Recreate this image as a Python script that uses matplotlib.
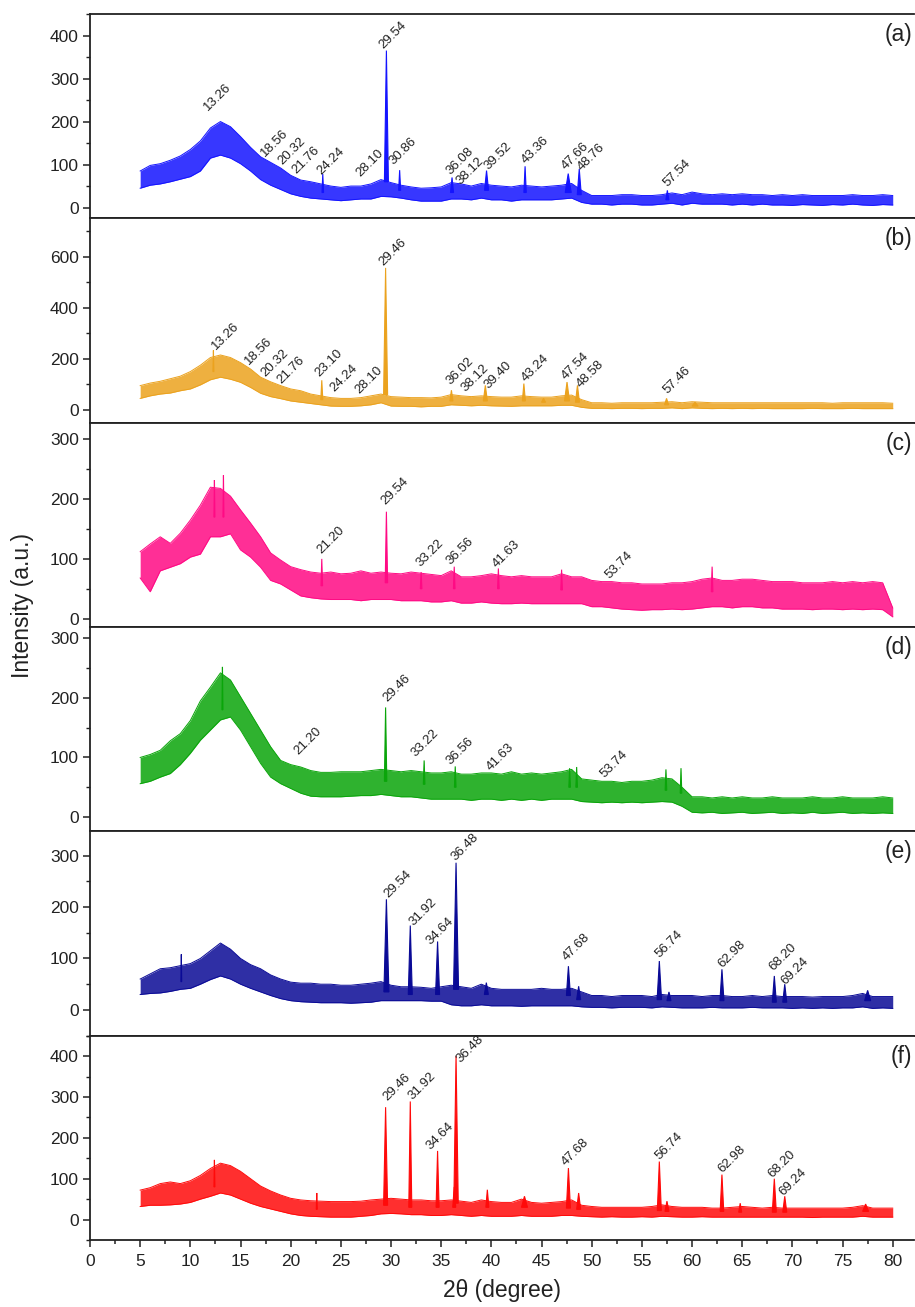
"""Stacked XRD patterns (a)-(f), redrawn from the published figure."""

import matplotlib
matplotlib.use("Agg")
import matplotlib.pyplot as plt
from matplotlib.ticker import MultipleLocator

plt.rcParams["font.family"] = ["Liberation Sans", "DejaVu Sans"]

# 2-theta grid (degrees) on which the noise band was read
TWO_THETA = list(range(5, 81))

# upper / lower edge of the noisy trace, one value per degree (5..80)
A_HI = [85, 98, 102, 110, 120,
        135, 155, 185, 200, 188, 165, 140, 118, 105, 92,
        75, 64, 60, 55, 50, 47, 50, 50, 55, 65,
        58, 52, 48, 45, 46, 48, 58, 55, 50, 56,
        52, 50, 48, 52, 50, 48, 50, 52, 56, 40,
        28, 28, 28, 30, 30, 28, 28, 30, 34, 30,
        36, 32, 30, 32, 30, 32, 30, 30, 28, 30,
        28, 30, 28, 28, 28, 28, 30, 28, 28, 30,
        28]
A_LO = [45, 52, 55, 60, 66,
        72, 85, 115, 122, 115, 102, 85, 65, 52, 42,
        32, 26, 22, 20, 18, 16, 18, 20, 20, 26,
        25, 22, 18, 15, 15, 15, 20, 20, 18, 22,
        18, 18, 15, 18, 18, 18, 18, 20, 22, 12,
        8, 8, 6, 8, 8, 6, 6, 8, 10, 6,
        10, 8, 8, 8, 6, 8, 6, 8, 6, 6,
        5, 7, 6, 5, 7, 6, 8, 6, 5, 7,
        6]
# (position, top, base, half width)
A_PEAKS = [(23.2, 78, 35, 0.08), (29.54, 365, 60, 0.2), (30.86, 87, 40, 0.1),
           (36.08, 70, 35, 0.15), (39.52, 86, 40, 0.2), (43.36, 96, 35, 0.12),
           (47.66, 79, 35, 0.3), (48.76, 90, 30, 0.2), (57.54, 40, 18, 0.15)]
A_LABELS = [("13.26", 11.8, 225), ("18.56", 17.4, 118), ("20.32", 19.2, 98),
            ("21.76", 20.6, 79), ("24.24", 23.1, 75), ("28.10", 26.9, 71),
            ("29.54", 29.2, 369), ("30.86", 30.2, 98), ("36.08", 35.9, 75),
            ("38.12", 36.9, 52), ("39.52", 39.7, 87), ("43.36", 43.4, 102),
            ("47.66", 47.4, 87), ("48.76", 49.0, 84), ("57.54", 57.5, 48)]

B_HI = [95, 105, 112, 122, 132,
        150, 175, 205, 215, 205, 185, 160, 128, 110, 95,
        82, 75, 62, 55, 48, 45, 45, 48, 55, 62,
        52, 50, 48, 48, 47, 50, 60, 55, 52, 55,
        52, 50, 50, 55, 52, 50, 50, 55, 58, 40,
        28, 28, 26, 28, 28, 28, 28, 30, 32, 28,
        32, 30, 28, 28, 28, 28, 28, 28, 28, 28,
        28, 28, 28, 28, 26, 28, 28, 28, 28, 28,
        26]
B_LO = [45, 55, 62, 66, 75,
        82, 98, 118, 128, 120, 108, 88, 65, 52, 44,
        35, 30, 25, 20, 15, 14, 14, 16, 20, 28,
        15, 14, 14, 12, 14, 14, 20, 18, 16, 18,
        16, 15, 14, 16, 16, 16, 16, 18, 18, 10,
        6, 6, 5, 6, 6, 5, 6, 6, 8, 5,
        8, 6, 5, 6, 5, 6, 5, 6, 5, 5,
        5, 5, 6, 5, 5, 5, 6, 5, 5, 5,
        5]
B_PEAKS = [(12.3, 233, 150, 0.05), (23.1, 116, 40, 0.1), (29.46, 556, 60, 0.2),
           (36.02, 77, 35, 0.15), (39.40, 96, 35, 0.2), (43.24, 103, 35, 0.15),
           (45.2, 45, 30, 0.2), (47.54, 109, 35, 0.25), (48.58, 96, 30, 0.2),
           (57.46, 45, 20, 0.2), (60.3, 30, 15, 0.3)]
B_LABELS = [("13.26", 12.6, 233), ("18.56", 15.8, 175), ("20.32", 17.5, 129),
            ("21.76", 19.1, 103), ("23.10", 22.9, 129), ("24.24", 24.3, 70),
            ("28.10", 26.8, 64), ("29.46", 29.2, 565), ("36.02", 35.9, 96),
            ("38.12", 37.4, 70), ("39.40", 39.7, 83), ("43.24", 43.4, 109),
            ("47.54", 47.4, 119), ("48.58", 48.9, 87), ("57.46", 57.5, 64)]

C_HI = [112, 125, 137, 126, 143,
        165, 190, 220, 218, 205, 182, 160, 137, 110, 98,
        87, 82, 78, 76, 78, 75, 76, 80, 76, 78,
        76, 75, 78, 76, 74, 72, 80, 70, 70, 72,
        75, 72, 70, 72, 70, 70, 70, 75, 70, 70,
        64, 62, 62, 60, 60, 58, 58, 58, 60, 60,
        62, 66, 68, 64, 64, 66, 66, 64, 62, 62,
        62, 60, 60, 60, 62, 60, 62, 60, 62, 60,
        18]
C_LO = [68, 45, 80, 86, 92,
        103, 108, 137, 137, 142, 115, 103, 86, 64, 58,
        48, 38, 35, 33, 32, 32, 32, 30, 32, 32,
        32, 30, 30, 30, 28, 28, 30, 26, 26, 28,
        26, 25, 25, 26, 25, 25, 25, 25, 25, 25,
        20, 20, 18, 16, 15, 14, 15, 15, 16, 15,
        16, 18, 20, 20, 18, 20, 20, 18, 18, 16,
        16, 16, 15, 16, 16, 15, 16, 15, 16, 15,
        3]
C_PEAKS = [(12.4, 232, 170, 0.05), (13.3, 240, 170, 0.05), (23.1, 100, 55, 0.08),
           (29.54, 179, 60, 0.12), (33.0, 78, 50, 0.08), (36.3, 87, 50, 0.08),
           (40.7, 84, 50, 0.08), (47.0, 82, 48, 0.08), (62.0, 87, 45, 0.08)]
C_LABELS = [("21.20", 23.1, 109), ("29.54", 29.4, 190), ("33.22", 32.9, 86),
            ("36.56", 35.9, 89), ("41.63", 40.5, 84), ("53.74", 51.8, 67)]

D_HI = [100, 105, 112, 128, 140,
        162, 195, 218, 242, 230, 202, 174, 146, 118, 95,
        88, 84, 78, 75, 75, 76, 76, 76, 78, 80,
        78, 76, 78, 76, 74, 74, 76, 72, 72, 74,
        74, 72, 76, 72, 74, 72, 74, 76, 80, 64,
        62, 60, 60, 58, 60, 60, 62, 66, 64, 50,
        34, 34, 32, 34, 32, 34, 32, 32, 34, 32,
        32, 32, 34, 32, 32, 34, 32, 32, 32, 34,
        32]
D_LO = [56, 60, 67, 73, 88,
        107, 129, 146, 163, 168, 146, 118, 90, 67, 56,
        48, 40, 35, 34, 34, 34, 35, 36, 36, 38,
        36, 34, 34, 32, 30, 30, 30, 30, 28, 30,
        30, 28, 30, 28, 30, 28, 30, 30, 30, 26,
        25, 24, 25, 24, 25, 24, 25, 26, 25, 18,
        8, 7, 8, 6, 7, 8, 6, 7, 8, 6,
        7, 6, 8, 6, 7, 8, 6, 7, 6, 7,
        6]
D_PEAKS = [(13.2, 252, 180, 0.05), (29.46, 184, 60, 0.12), (33.3, 95, 55, 0.08),
           (36.4, 85, 50, 0.08), (47.8, 82, 50, 0.08), (48.5, 84, 50, 0.08),
           (57.4, 80, 45, 0.08), (58.9, 82, 40, 0.08)]
D_LABELS = [("21.20", 20.8, 104), ("29.46", 29.6, 193), ("33.22", 32.4, 101),
            ("36.56", 35.9, 87), ("41.63", 39.9, 78), ("53.74", 51.3, 65)]

E_HI = [60, 70, 80, 82, 86,
        90, 100, 115, 130, 118, 100, 88, 80, 68, 60,
        54, 52, 52, 50, 50, 48, 48, 50, 52, 55,
        48, 45, 45, 44, 42, 45, 48, 45, 42, 50,
        42, 40, 40, 40, 40, 42, 40, 40, 42, 35,
        28, 28, 26, 28, 28, 28, 26, 30, 28, 28,
        28, 26, 28, 28, 26, 26, 28, 26, 28, 26,
        26, 26, 25, 26, 26, 26, 28, 32, 26, 26,
        26]
E_LO = [30, 32, 33, 36, 40,
        42, 50, 59, 66, 60, 50, 42, 35, 28, 22,
        18, 16, 15, 14, 14, 14, 13, 14, 15, 18,
        18, 18, 18, 18, 17, 17, 10, 8, 8, 10,
        8, 8, 8, 7, 8, 8, 8, 8, 8, 6,
        5, 5, 4, 5, 5, 5, 4, 6, 5, 4,
        4, 4, 5, 4, 4, 4, 5, 4, 4, 4,
        3, 4, 3, 4, 3, 4, 4, 6, 3, 4,
        3]
E_PEAKS = [(9.1, 108, 55, 0.04), (29.54, 215, 35, 0.25), (31.92, 164, 30, 0.2),
           (34.64, 133, 30, 0.2), (36.48, 286, 40, 0.25), (39.5, 53, 30, 0.2),
           (47.68, 85, 28, 0.2), (48.7, 46, 20, 0.2), (56.74, 95, 20, 0.22),
           (57.7, 35, 18, 0.2), (62.98, 79, 18, 0.2), (68.20, 66, 15, 0.2),
           (69.24, 50, 15, 0.2), (77.5, 38, 18, 0.3)]
E_LABELS = [("29.54", 29.7, 218), ("31.92", 32.2, 163), ("34.64", 33.9, 127),
            ("36.48", 36.4, 289), ("47.68", 47.5, 95), ("56.74", 56.7, 101),
            ("62.98", 63.0, 82), ("68.20", 68.1, 75), ("69.24", 69.3, 49)]

F_HI = [72, 78, 88, 92, 88,
        95, 108, 125, 138, 132, 118, 100, 82, 70, 60,
        52, 48, 46, 45, 44, 44, 44, 45, 48, 50,
        52, 50, 48, 48, 46, 46, 48, 45, 42, 48,
        44, 42, 42, 50, 42, 40, 42, 44, 48, 35,
        32, 30, 30, 30, 30, 30, 32, 36, 32, 30,
        30, 30, 28, 28, 30, 32, 30, 28, 30, 28,
        28, 28, 28, 28, 28, 28, 30, 34, 28, 28,
        28]
F_LO = [32, 35, 35, 36, 38,
        42, 50, 57, 65, 60, 50, 40, 32, 26, 20,
        14, 10, 8, 7, 6, 6, 6, 8, 10, 14,
        15, 14, 12, 12, 10, 10, 12, 10, 8, 10,
        8, 8, 8, 10, 8, 8, 8, 10, 10, 8,
        7, 6, 7, 6, 6, 7, 6, 8, 7, 6,
        6, 7, 6, 6, 6, 6, 6, 6, 6, 6,
        6, 6, 5, 6, 6, 6, 6, 8, 6, 6,
        6]
F_PEAKS = [(12.4, 146, 80, 0.05), (22.6, 65, 25, 0.05), (29.46, 275, 35, 0.2),
           (31.92, 289, 30, 0.15), (34.64, 168, 30, 0.15), (36.3, 80, 30, 0.15),
           (36.48, 400, 40, 0.22), (39.6, 73, 30, 0.15), (43.3, 57, 30, 0.3),
           (47.68, 126, 28, 0.2), (48.7, 65, 25, 0.2), (56.74, 142, 22, 0.2),
           (57.5, 45, 20, 0.2), (62.98, 110, 20, 0.18), (64.8, 40, 18, 0.15),
           (68.20, 100, 18, 0.2), (69.24, 57, 18, 0.2), (77.3, 38, 20, 0.3)]
F_LABELS = [("29.46", 29.6, 289), ("31.92", 32.1, 293), ("34.64", 33.9, 171),
            ("36.48", 36.9, 382), ("47.68", 47.4, 130), ("56.74", 56.7, 146),
            ("62.98", 63.0, 114), ("68.20", 68.0, 102), ("69.24", 69.1, 57)]

PANELS = [
    ("(a)", A_HI, A_LO, A_PEAKS, A_LABELS, "#1414ff", (-25, 450), 100, 50),
    ("(b)", B_HI, B_LO, B_PEAKS, B_LABELS, "#eba21e", (-50, 750), 200, 100),
    ("(c)", C_HI, C_LO, C_PEAKS, C_LABELS, "#ff0a84", (-14, 328), 100, 50),
    ("(d)", D_HI, D_LO, D_PEAKS, D_LABELS, "#0aa50a", (-24, 319), 100, 50),
    ("(e)", E_HI, E_LO, E_PEAKS, E_LABELS, "#0a0a96", (-50, 347), 100, 50),
    ("(f)", F_HI, F_LO, F_PEAKS, F_LABELS, "#ff0a0a", (-50, 450), 100, 50),
]

FIG_W, FIG_H = 915, 1307
LEFT_PX, RIGHT_PX = 90, 914
TOP_PX, BOTTOM_PX = 14, 1240


def draw_panel(ax, hi, lo, peaks, labels, color):
    ax.fill_between(TWO_THETA, lo, hi, color=color, alpha=0.85, lw=0)
    ax.plot(TWO_THETA, hi, color=color, lw=0.7)
    ax.plot(TWO_THETA, lo, color=color, lw=0.7)
    for pos, top, base, hw in peaks:
        ax.fill([pos - hw, pos, pos + hw], [base, top, base], color=color, lw=0.8)
    for text, x, y in labels:
        ax.text(x, y, text, rotation=45, rotation_mode="anchor", ha="left",
                va="baseline", fontsize=9.5, color="#222222")


def main():
    fig = plt.figure(figsize=(FIG_W / 100, FIG_H / 100), dpi=100)
    panel_h = (BOTTOM_PX - TOP_PX) / len(PANELS)
    for i, (tag, hi, lo, peaks, labels, color, ylim, major, minor) in enumerate(PANELS):
        top = TOP_PX + i * panel_h
        ax = fig.add_axes([LEFT_PX / FIG_W, 1 - (top + panel_h) / FIG_H,
                           (RIGHT_PX - LEFT_PX) / FIG_W, panel_h / FIG_H])
        draw_panel(ax, hi, lo, peaks, labels, color)
        ax.set_xlim(0, (RIGHT_PX - LEFT_PX) / 10.034)
        ax.set_ylim(*ylim)
        ax.yaxis.set_major_locator(MultipleLocator(major))
        ax.yaxis.set_minor_locator(MultipleLocator(minor))
        ax.xaxis.set_minor_locator(MultipleLocator(2.5))
        ax.set_xticks(range(0, 81, 5))
        ax.spines["right"].set_visible(False)
        for side in ("left", "top", "bottom"):
            ax.spines[side].set_linewidth(1.3)
            ax.spines[side].set_color("#222222")
        ax.tick_params(axis="y", which="major", direction="out", length=5, width=1.1,
                       labelsize=12.5, pad=3, colors="#222222")
        ax.tick_params(axis="y", which="minor", direction="out", length=3, width=1.0,
                       colors="#222222")
        ax.tick_params(axis="x", which="both", direction="out", width=1.1, colors="#222222")
        ax.tick_params(axis="x", which="major", length=5, labelsize=12.5, pad=5)
        ax.tick_params(axis="x", which="minor", length=3)
        if i < len(PANELS) - 1:
            ax.tick_params(axis="x", which="both", bottom=False, labelbottom=False)
        ax.text(0.998, 0.9, tag, transform=ax.transAxes, ha="right", va="center",
                fontsize=16.5, color="#222222")

    fig.text(502 / FIG_W, 1 - 1291 / FIG_H, "2\u03b8 (degree)", ha="center", va="center",
             fontsize=16.5, color="#222222")
    fig.text(22 / FIG_W, 1 - 606 / FIG_H, "Intensity (a.u.)", rotation=90, ha="center",
             va="center", fontsize=16.5, color="#222222")
    fig.savefig("out.png", dpi=100)


if __name__ == "__main__":
    main()
